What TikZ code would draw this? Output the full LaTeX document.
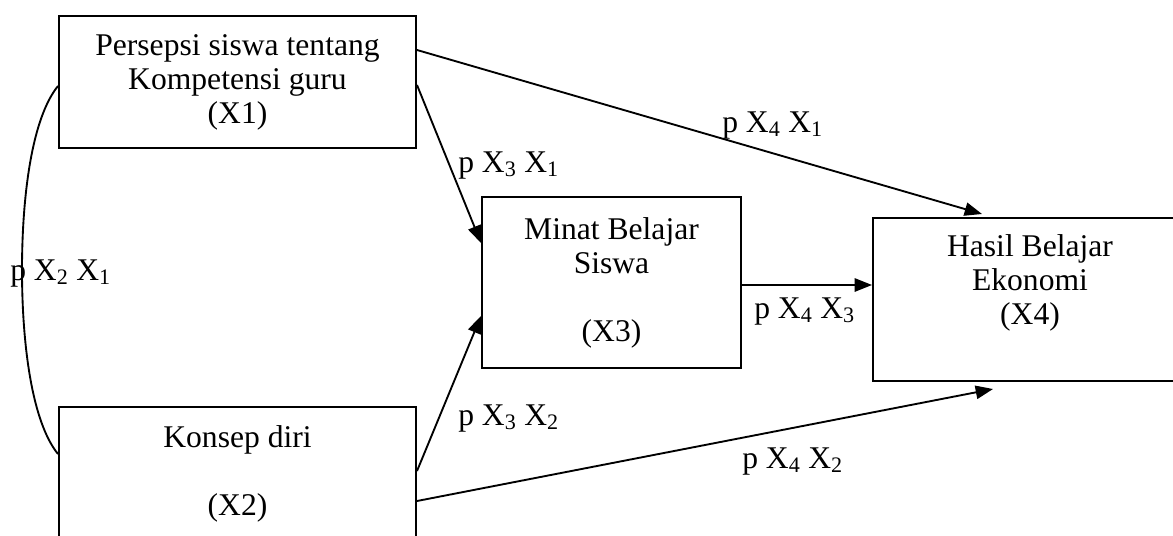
\documentclass[tikz,border=0pt]{standalone}
\usepackage{fontspec}
\setmainfont{Liberation Serif}
\usetikzlibrary{arrows.meta,calc}
\begin{document}
\begin{tikzpicture}[x=0.75pt,y=-0.75pt,
  every node/.style={font=\fontsize{23.7}{25.5}\selectfont},
  box/.style={draw,line width=1.5pt,inner sep=0pt,align=center},
  txt/.style={inner sep=0pt,align=center},
  lbl/.style={inner sep=0pt,anchor=base west},
  link/.style={line width=1.4pt},
  path arrow/.style={link,-{Triangle[length=13pt,width=10pt]}}]
\useasboundingbox (0,0) rectangle (1173,535);
\clip (0,0) rectangle (1173,535);

% the four variables
\node[box,minimum width=357*0.75pt,minimum height=132*0.75pt] (x1) at (237.5,82)
  {Persepsi siswa tentang\\Kompetensi guru\\(X1)};
\node[box,minimum width=357*0.75pt,minimum height=153*0.75pt] (x2) at (237.5,483.5) {};
\node[txt] (x2t) at (237.5,474) {Konsep diri\\[25.5pt](X2)};
\node[box,minimum width=259*0.75pt,minimum height=171*0.75pt] (x3) at (611.5,282.5)
  {Minat Belajar\\Siswa\\[25.5pt](X3)};
\node[box,minimum width=314*0.75pt,minimum height=163*0.75pt] (x4) at (1030,299.5) {};
\node[txt] (x4t) at (1030,283) {Hasil Belajar\\Ekonomi\\(X4)};

% correlation between X1 and X2
\draw[link] ($(x1.west)+(0,4)$) .. controls (32,118) and (22,195) .. (22,270)
  .. controls (22,345) and (32,422) .. ($(x2.north west)+(0,48)$);

% path arrows
\coordinate (x3out) at ($(x3.east)+(0,2.5)$);
\draw[path arrow] ($(x1.north east)+(0,35)$) -- ($(x4.north west)+(110,-3)$);
\draw[path arrow] ($(x1.north east)+(0,70)$) -- ($(x3.north west)+(0,47)$);
\draw[path arrow] ($(x2.north east)+(0,65)$) -- ($(x3.north west)+(0,120)$);
\draw[path arrow] ($(x2.north east)+(0,95)$) -- ($(x4.south west)+(121,7)$);
\draw[path arrow] (x3out) -- (x3out -| x4.west);

% path coefficients
\node[lbl] (p21) at (10,280) {p X\textsubscript{2} X\textsubscript{1}};
\node[lbl] (p31) at (458,172) {p X\textsubscript{3} X\textsubscript{1}};
\node[lbl] (p41) at (722,132) {p X\textsubscript{4} X\textsubscript{1}};
\node[lbl] (p43) at (754,318) {p X\textsubscript{4} X\textsubscript{3}};
\node[lbl] (p32) at (458,425) {p X\textsubscript{3} X\textsubscript{2}};
\node[lbl] (p42) at (742,468) {p X\textsubscript{4} X\textsubscript{2}};
\end{tikzpicture}
\end{document}
